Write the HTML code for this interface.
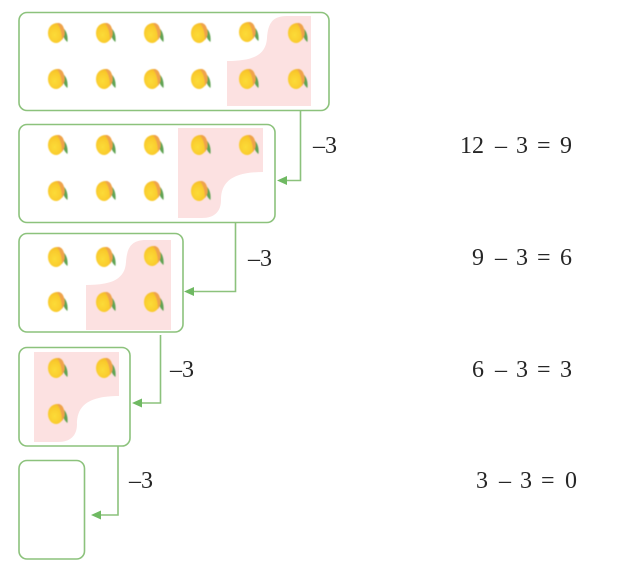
<!DOCTYPE html>
<html>
<head>
<meta charset="utf-8">
<style>
html,body{margin:0;padding:0;background:#fff;}
svg{display:block;}
text{font-family:"Liberation Serif",serif;font-size:24px;fill:#262626;}
</style>
</head>
<body>
<svg width="627" height="565" viewBox="0 0 627 565" xmlns="http://www.w3.org/2000/svg">
<defs>
<radialGradient id="mg" cx="0.4" cy="0.6" r="0.7">
<stop offset="0" stop-color="#fcdc38"/>
<stop offset="0.65" stop-color="#f9c92b"/>
<stop offset="1" stop-color="#f0ae2a"/>
</radialGradient>
<filter id="soft" x="-20%" y="-20%" width="140%" height="140%"><feGaussianBlur stdDeviation="0.45"/></filter>
<g id="m" filter="url(#soft)">
<path d="M7 -5 C11 -2 12 4 11.500 9 C9 7 7 4 6.500 0Z" fill="#5fa352"/>
<path d="M2 -10 C6 -10 8 -6 8.500 -1 C8.500 3 6 9 1 10 C-4 10.500 -8 6 -8 0 C-8 -6 -4 -10 2 -10Z" fill="url(#mg)"/>
<path d="M1 -10 C5 -10.500 8 -7 8.500 -1 C9 2 7.500 5 6 7 C6 2 5 -5 1 -10Z" fill="#efa24c"/>
</g>
</defs>

<g fill="#fce1e1">
<path d="M311 16 H287 C272 16 268 24 267 38 C266 54 255 61 227 61 V106 H311Z"/>
<path d="M263 128 H178 V218 H202 C214 218 221 212 221 200 C221 182 232 172 263 172Z"/>
<path d="M171 240 H146 C131 240 127 248 126 262 C125 278 114 285 86 285 V330 H171Z"/>
<path d="M119 352 H34 V442 H58 C70 442 77 436 77 424 C77 406 88 396 119 396Z"/>
</g>

<g fill="none" stroke="#8cc27c" stroke-width="1.6">
<rect x="19" y="12.500" width="310" height="98" rx="8"/>
<rect x="19" y="124.500" width="256" height="98" rx="8"/>
<rect x="19" y="233.500" width="164" height="98.500" rx="8"/>
<rect x="19" y="347.500" width="111" height="98.500" rx="8"/>
<rect x="19" y="460.500" width="65.500" height="98.500" rx="8"/>
<path d="M300.500 111 V180.500 H285"/>
<path d="M235.500 223 V291.500 H192"/>
<path d="M160.500 335 V403 H140"/>
<path d="M118 446 V515 H99"/>
</g>
<g fill="#6fb962">
<path d="M277 180.500 L287 176 L287 185Z"/>
<path d="M184 291.500 L194 287 L194 296Z"/>
<path d="M132 403 L142 398.500 L142 407.500Z"/>
<path d="M91 515 L101 510.500 L101 519.500Z"/>
</g>

<!-- box 1 -->
<use href="#m" x="56" y="33"/><use href="#m" x="104" y="33"/><use href="#m" x="152" y="33"/><use href="#m" x="199" y="33"/><use href="#m" x="247" y="32"/><use href="#m" x="296" y="33"/>
<use href="#m" x="56" y="79"/><use href="#m" x="104" y="79"/><use href="#m" x="152" y="79"/><use href="#m" x="199" y="79"/><use href="#m" x="247" y="79"/><use href="#m" x="296" y="79"/>
<!-- box 2 -->
<use href="#m" x="56" y="145"/><use href="#m" x="104" y="145"/><use href="#m" x="152" y="145"/><use href="#m" x="199" y="145"/><use href="#m" x="247" y="145"/>
<use href="#m" x="56" y="191"/><use href="#m" x="104" y="191"/><use href="#m" x="152" y="191"/><use href="#m" x="199" y="191"/>
<!-- box 3 -->
<use href="#m" x="56" y="257"/><use href="#m" x="104" y="257"/><use href="#m" x="152" y="256"/>
<use href="#m" x="56" y="302"/><use href="#m" x="104" y="302"/><use href="#m" x="152" y="302"/>
<!-- box 4 -->
<use href="#m" x="56" y="368"/><use href="#m" x="104" y="368"/>
<use href="#m" x="56" y="414"/>

<!-- minus labels -->
<text x="313" y="153">–3</text>
<text x="248" y="266">–3</text>
<text x="170" y="377">–3</text>
<text x="129" y="488">–3</text>

<!-- equations -->
<text x="460" y="153">12</text><text x="495" y="153">–</text><text x="516" y="153">3</text><text x="537" y="153">=</text><text x="560" y="153">9</text>
<text x="472" y="265">9</text><text x="495" y="265">–</text><text x="516" y="265">3</text><text x="537" y="265">=</text><text x="560" y="265">6</text>
<text x="472" y="377">6</text><text x="495" y="377">–</text><text x="516" y="377">3</text><text x="537" y="377">=</text><text x="560" y="377">3</text>
<text x="476" y="488">3</text><text x="499" y="488">–</text><text x="520" y="488">3</text><text x="541" y="488">=</text><text x="565" y="488">0</text>
</svg>
</body>
</html>
